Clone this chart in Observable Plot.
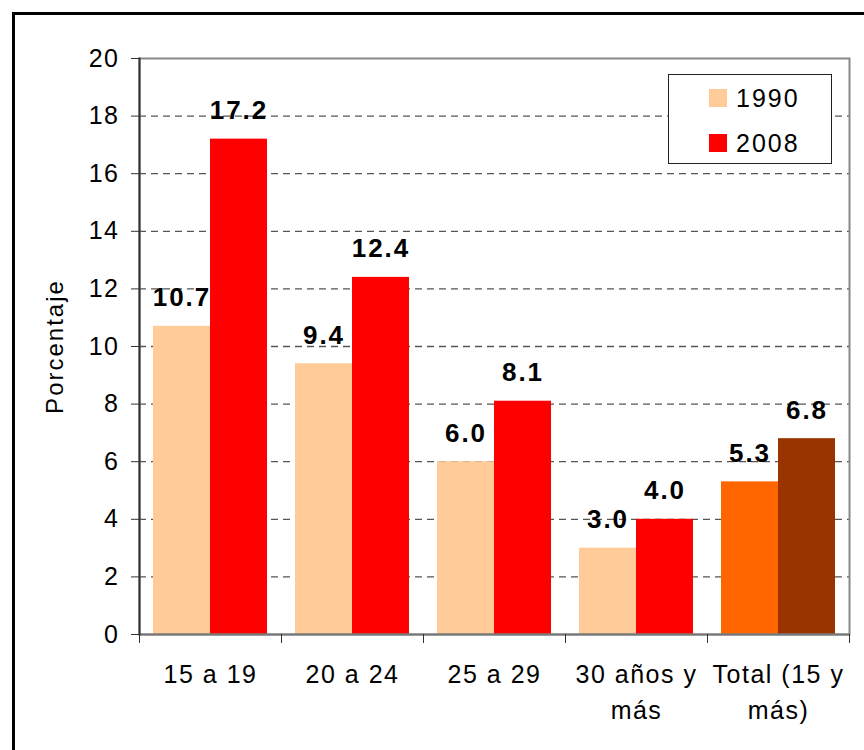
<!DOCTYPE html>
<html>
<head>
<meta charset="utf-8">
<script src="https://cdn.jsdelivr.net/npm/d3@7"></script>
<script src="https://cdn.jsdelivr.net/npm/@observablehq/plot@0.6"></script>
<style>
  html, body { margin: 0; padding: 0; background: #fff; overflow: hidden; }
  #wrap { position: relative; width: 864px; height: 750px; overflow: hidden; font-family: "Liberation Sans", Arial, sans-serif; }
  #frame { position: absolute; left: 12px; top: 12px; width: 1000px; height: 1000px; border: 3px solid #000; pointer-events: none; }
  #chart { position: absolute; left: 0; top: 0; }
  #chart svg text { letter-spacing: 1.5px; }
  #chart svg g[aria-label="text"] text { letter-spacing: 2px; }
  #legend { position: absolute; left: 668px; top: 74px; width: 162px; height: 88px; border: 1px solid #222; background: #fff; }
  .item { position: absolute; left: 40px; height: 20px; }
  .sw { position: absolute; left: 0; width: 18px; height: 18px; }
  .lab { position: absolute; left: 27px; top: -6px; font-size: 25px; letter-spacing: 2px; line-height: 30px; color: #000; white-space: nowrap; }
</style>
</head>
<body>
<div id="wrap">
  <div id="chart"></div>
  <div id="legend"></div>
  <div id="frame"></div>
</div>
<script>
// ---- data ----
const categories = ["15 a 19", "20 a 24", "25 a 29", "30 años y\nmás", "Total (15 y\nmás)"];
const years = ["1990", "2008"];
const values1990 = [10.7, 9.4, 6.0, 3.0, 5.3];
const values2008 = [17.2, 12.4, 8.1, 4.0, 6.8];
const yTicks = [0, 2, 4, 6, 8, 10, 12, 14, 16, 18, 20];
const colorKeys = ["1990", "2008", "Total 1990", "Total 2008"];
const colorValues = ["#FFCC99", "#FF0000", "#FF6600", "#993300"];
const yLabel = "Porcentaje";

const rows = categories.flatMap((c, i) => years.map((y, j) => ({
  cat: c,
  year: y,
  value: j === 0 ? values1990[i] : values2008[i],
  key: (i === categories.length - 1 ? "Total " : "") + y
})));

const W = 864, H = 750, ml = 139, mr = 15, mt = 58, mb = 116;
const bw = (W - ml - mr) / categories.length;
const outer = 14;
const half = bw / 2;
const off = (half - outer) / 2;

const byYear = y => rows.filter(d => d.year === y);

const chart = Plot.plot({
  width: W,
  height: H,
  marginLeft: ml,
  marginRight: mr,
  marginTop: mt,
  marginBottom: mb,
  style: { fontFamily: "'Liberation Sans', Arial, sans-serif", fontSize: "25px", color: "#000", background: "transparent" },
  x: { domain: categories, padding: 0, label: null },
  y: { domain: [0, 20], label: null },
  color: { domain: colorKeys, range: colorValues },
  marks: [
    Plot.ruleY(yTicks.filter(t => t > 0 && t < 20), { y: d => d, stroke: "#555", strokeWidth: 1.3, strokeDasharray: "7,5" }),
    Plot.barY(byYear("1990"), { x: "cat", y: "value", fill: "key", insetLeft: outer, insetRight: half }),
    Plot.barY(byYear("2008"), { x: "cat", y: "value", fill: "key", insetLeft: half, insetRight: outer }),
    Plot.frame({ stroke: "#888", strokeWidth: 2 }),
    Plot.ruleY([0], { stroke: "#777", strokeWidth: 2 }),
    Plot.frame({ anchor: "left", stroke: "#333", strokeWidth: 2 }),
    Plot.axisY({ ticks: yTicks, tickSize: 8, tickPadding: 12, fontSize: 25, stroke: "#333" }),
    Plot.axisX({ tickSize: 9, tickFormat: () => "", dx: -half, stroke: "#333" }),
    Plot.axisX({ ticks: [categories[categories.length - 1]], tickSize: 9, tickFormat: () => "", dx: half, stroke: "#333" }),
    Plot.axisX({ tickSize: 0, tickPadding: 23, fontSize: 25, lineHeight: 1.45 }),
    Plot.text(byYear("1990"), { x: "cat", y: "value", text: d => d.value.toFixed(1), dx: -off, dy: -20, lineAnchor: "bottom", fontWeight: "bold", fontSize: 26 }),
    Plot.text(byYear("2008"), { x: "cat", y: "value", text: d => d.value.toFixed(1), dx: off, dy: -20, lineAnchor: "bottom", fontWeight: "bold", fontSize: 26 }),
    Plot.text([yLabel], { frameAnchor: "left", textAnchor: "middle", rotate: -90, dx: -84, lineAnchor: "middle", fontSize: 24, fontWeight: "normal" })
  ]
});
document.getElementById("chart").appendChild(chart);

// legend
const legend = document.getElementById("legend");
years.forEach((y, i) => {
  const item = document.createElement("div");
  item.className = "item";
  item.style.top = (14 + i * 45) + "px";
  const sw = document.createElement("div");
  sw.className = "sw";
  sw.style.background = colorValues[i];
  const lab = document.createElement("div");
  lab.className = "lab";
  lab.textContent = y;
  item.appendChild(sw);
  item.appendChild(lab);
  legend.appendChild(item);
});
</script>
</body>
</html>
